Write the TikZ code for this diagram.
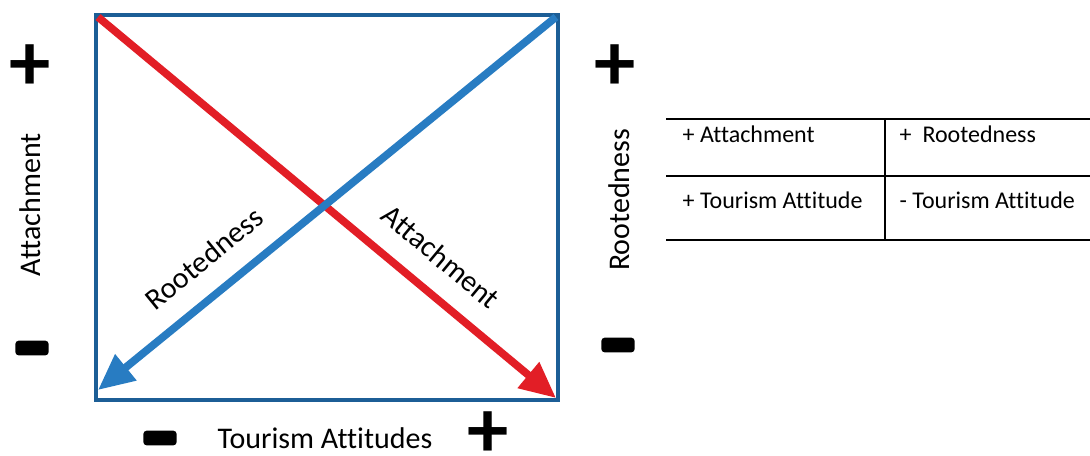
\documentclass[tikz,border=0pt]{standalone}
\usepackage{fontspec}
\setmainfont[Ligatures=NoCommon]{Carlito}
\usetikzlibrary{arrows.meta}
\definecolor{frameblue}{RGB}{28,94,150}
\definecolor{lineblue}{RGB}{40,124,194}
\definecolor{linered}{RGB}{226,30,38}
\begin{document}
\begin{tikzpicture}[x=0.75pt,y=-0.75pt,
    axislabel/.style={font=\fontsize{22.5}{26}\selectfont},
    celltext/.style={font=\fontsize{18}{21}\selectfont, anchor=west},
    plussign/.style={font=\fontsize{62}{62}\selectfont\bfseries, inner sep=0pt},
    minussign/.style={fill=black, rounded corners=2.5pt, minimum width=25pt, minimum height=11pt, inner sep=0pt},
    diag/.style={line width=5.8pt, -{Triangle[length=27pt,width=24pt]}}]
    \useasboundingbox (0,0) rectangle (1090,455);

    % Frame corners
    \coordinate (TL) at (96,15);
    \coordinate (TR) at (558,15);
    \coordinate (BL) at (96,400);
    \coordinate (BR) at (558,400);
    \draw[frameblue, line width=3.2pt] (TL) rectangle (BR);

    % Diagonals
    \coordinate (redStart) at (98,17);
    \coordinate (redTip) at (556,398);
    \coordinate (blueStart) at (556,17);
    \coordinate (blueTip) at (98,390);
    \draw[diag, linered] (redStart) -- (redTip);
    \draw[diag, lineblue] (blueStart) -- (blueTip);
    \path (redStart) -- (redTip) node[sloped, above=15pt, pos=0.70, axislabel] (attDiag) {Attachment};
    \path (blueTip) -- (blueStart) node[sloped, above=15pt, pos=0.28, axislabel] (rootDiag) {Rootedness};

    % Axis labels
    \node[axislabel, rotate=90] (attAxis) at (30,205) {Attachment};
    \node[axislabel, rotate=90] (rootAxis) at (619,200) {Rootedness};
    \node[axislabel] (tourAxis) at (325,438) {Tourism Attitudes};

    % Signs
    \node[plussign] (plusL) at (30,68) {+};
    \node[plussign] (plusR) at (615,68) {+};
    \node[plussign] (plusB) at (488,435) {+};
    \node[minussign] (minusL) at (32,348) {};
    \node[minussign] (minusR) at (618,345) {};
    \node[minussign] (minusB) at (160,438) {};

    % Table
    \coordinate (tabTL) at (666,119);
    \coordinate (tabTR) at (1090,119);
    \coordinate (tabML) at (666,176);
    \coordinate (tabMR) at (1090,176);
    \coordinate (tabBL) at (666,240);
    \coordinate (tabBR) at (1090,240);
    \coordinate (tabVT) at (885,119);
    \coordinate (tabVB) at (885,240);
    \draw[line width=2.1pt] (tabTL) -- (tabTR);
    \draw[line width=2.1pt] (tabML) -- (tabMR);
    \draw[line width=2.1pt] (tabBL) -- (tabBR);
    \draw[line width=1.6pt] (tabVT) -- (tabVB);
    \node[celltext] (cellA) at (678,134) {+ Attachment};
    \node[celltext] (cellB) at (895,134) {+\ \ Rootedness};
    \node[celltext] (cellC) at (678,200) {+ Tourism Attitude};
    \node[celltext] (cellD) at (895,200) {- Tourism Attitude};
\end{tikzpicture}
\end{document}
